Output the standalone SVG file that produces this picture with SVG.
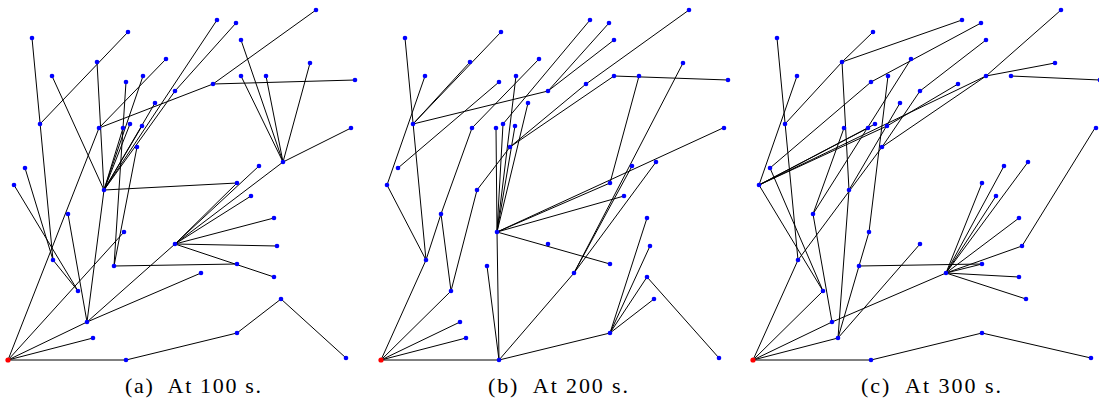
<svg xmlns="http://www.w3.org/2000/svg" width="1099" height="412" viewBox="0 0 1099 412">
<style>
.e line{stroke:#000;stroke-width:1}
.n circle{fill:#0000ff}
.n .r circle{fill:#ff0000}
text{font-family:"Liberation Serif","DejaVu Serif",serif;font-size:22px;fill:#000}
</style>
<rect width="1099" height="412" fill="#fff"/>
<g id="panel-a">
<g id="a-edges" class="e">
<line x1="8" y1="360" x2="126" y2="360"/><line x1="126" y1="360" x2="237" y2="333"/><line x1="237" y1="333" x2="281" y2="299"/><line x1="281" y1="299" x2="346" y2="358"/>
<line x1="8" y1="360" x2="93" y2="338"/><line x1="8" y1="360" x2="87" y2="322"/><line x1="87" y1="322" x2="201" y2="273"/><line x1="87" y1="322" x2="175" y2="244"/>
<line x1="175" y1="244" x2="274" y2="277"/><line x1="114" y1="266" x2="237" y2="264"/><line x1="175" y1="244" x2="277" y2="246"/><line x1="175" y1="244" x2="274" y2="218"/><line x1="175" y1="244" x2="251" y2="196"/><line x1="175" y1="244" x2="237" y2="183"/><line x1="175" y1="244" x2="259" y2="166"/><line x1="175" y1="244" x2="283" y2="162"/>
<line x1="283" y1="162" x2="351" y2="128"/><line x1="283" y1="162" x2="241" y2="40"/><line x1="283" y1="162" x2="241" y2="76"/><line x1="283" y1="162" x2="266" y2="76"/><line x1="283" y1="162" x2="310" y2="63"/>
<line x1="104" y1="190" x2="237" y2="183"/><line x1="213" y1="84" x2="316" y2="10"/><line x1="213" y1="84" x2="355" y2="80"/><line x1="99" y1="128" x2="213" y2="84"/><line x1="99" y1="128" x2="166" y2="59"/>
<line x1="126" y1="82" x2="114" y2="266"/><line x1="137" y1="147" x2="114" y2="266"/><line x1="52" y1="76" x2="104" y2="190"/><line x1="97" y1="62" x2="104" y2="190"/><line x1="128" y1="32" x2="40" y2="124"/>
<line x1="32" y1="38" x2="53" y2="260"/><line x1="25" y1="168" x2="53" y2="260"/><line x1="14" y1="185" x2="78" y2="291"/><line x1="53" y1="260" x2="78" y2="291"/>
<line x1="104" y1="190" x2="123" y2="128"/><line x1="104" y1="190" x2="130" y2="124"/><line x1="104" y1="190" x2="142" y2="126"/><line x1="104" y1="190" x2="143" y2="76"/><line x1="104" y1="190" x2="155" y2="103"/><line x1="104" y1="190" x2="175" y2="91"/><line x1="175" y1="91" x2="236" y2="23"/><line x1="104" y1="190" x2="217" y2="20"/>
<line x1="104" y1="190" x2="87" y2="322"/><line x1="8" y1="360" x2="99" y2="128"/><line x1="68" y1="214" x2="87" y2="322"/><line x1="8" y1="360" x2="124" y2="232"/>
</g>
<g id="a-nodes" class="n">
<g id="a-n0" class="r"><circle cx="8" cy="360" r="2.6"/></g>
<g id="a-n1"><circle cx="126" cy="360" r="2.3"/></g><g id="a-n2"><circle cx="93" cy="338" r="2.3"/></g><g id="a-n3"><circle cx="87" cy="322" r="2.3"/></g><g id="a-n4"><circle cx="78" cy="291" r="2.3"/></g><g id="a-n5"><circle cx="53" cy="260" r="2.3"/></g>
<g id="a-n6"><circle cx="68" cy="214" r="2.3"/></g><g id="a-n7"><circle cx="124" cy="232" r="2.3"/></g><g id="a-n8"><circle cx="114" cy="266" r="2.3"/></g><g id="a-n9"><circle cx="104" cy="190" r="2.3"/></g><g id="a-n10"><circle cx="14" cy="185" r="2.3"/></g>
<g id="a-n11"><circle cx="25" cy="168" r="2.3"/></g><g id="a-n12"><circle cx="32" cy="38" r="2.3"/></g><g id="a-n13"><circle cx="40" cy="124" r="2.3"/></g><g id="a-n14"><circle cx="128" cy="32" r="2.3"/></g><g id="a-n15"><circle cx="97" cy="62" r="2.3"/></g>
<g id="a-n16"><circle cx="52" cy="76" r="2.3"/></g><g id="a-n17"><circle cx="166" cy="59" r="2.3"/></g><g id="a-n18"><circle cx="126" cy="82" r="2.3"/></g><g id="a-n19"><circle cx="143" cy="76" r="2.3"/></g><g id="a-n20"><circle cx="175" cy="91" r="2.3"/></g>
<g id="a-n21"><circle cx="155" cy="103" r="2.3"/></g><g id="a-n22"><circle cx="99" cy="128" r="2.3"/></g><g id="a-n23"><circle cx="123" cy="128" r="2.3"/></g><g id="a-n24"><circle cx="130" cy="124" r="2.3"/></g><g id="a-n25"><circle cx="142" cy="126" r="2.3"/></g>
<g id="a-n26"><circle cx="137" cy="147" r="2.3"/></g><g id="a-n27"><circle cx="217" cy="20" r="2.3"/></g><g id="a-n28"><circle cx="236" cy="23" r="2.3"/></g><g id="a-n29"><circle cx="316" cy="10" r="2.3"/></g><g id="a-n30"><circle cx="241" cy="40" r="2.3"/></g>
<g id="a-n31"><circle cx="310" cy="63" r="2.3"/></g><g id="a-n32"><circle cx="241" cy="76" r="2.3"/></g><g id="a-n33"><circle cx="266" cy="76" r="2.3"/></g><g id="a-n34"><circle cx="213" cy="84" r="2.3"/></g><g id="a-n35"><circle cx="355" cy="80" r="2.3"/></g>
<g id="a-n36"><circle cx="351" cy="128" r="2.3"/></g><g id="a-n37"><circle cx="283" cy="162" r="2.3"/></g><g id="a-n38"><circle cx="259" cy="166" r="2.3"/></g><g id="a-n39"><circle cx="237" cy="183" r="2.3"/></g><g id="a-n40"><circle cx="175" cy="244" r="2.3"/></g>
<g id="a-n41"><circle cx="251" cy="196" r="2.3"/></g><g id="a-n42"><circle cx="274" cy="218" r="2.3"/></g><g id="a-n43"><circle cx="277" cy="246" r="2.3"/></g><g id="a-n44"><circle cx="237" cy="264" r="2.3"/></g><g id="a-n45"><circle cx="201" cy="273" r="2.3"/></g>
<g id="a-n46"><circle cx="274" cy="277" r="2.3"/></g><g id="a-n47"><circle cx="281" cy="299" r="2.3"/></g><g id="a-n48"><circle cx="237" cy="333" r="2.3"/></g><g id="a-n49"><circle cx="346" cy="358" r="2.3"/></g>
</g>
</g>
<g id="panel-b" transform="translate(373,0)">
<g id="b-edges" class="e">
<line x1="8" y1="360" x2="126" y2="360"/><line x1="126" y1="360" x2="114" y2="266"/><line x1="126" y1="360" x2="124" y2="232"/><line x1="126" y1="360" x2="201" y2="273"/><line x1="201" y1="273" x2="259" y2="166"/><line x1="201" y1="273" x2="283" y2="162"/><line x1="126" y1="360" x2="237" y2="333"/>
<line x1="237" y1="333" x2="274" y2="218"/><line x1="237" y1="333" x2="277" y2="246"/><line x1="237" y1="333" x2="274" y2="277"/><line x1="237" y1="333" x2="281" y2="299"/><line x1="274" y1="277" x2="346" y2="358"/>
<line x1="8" y1="360" x2="93" y2="338"/><line x1="8" y1="360" x2="87" y2="322"/><line x1="8" y1="360" x2="78" y2="291"/><line x1="8" y1="360" x2="53" y2="260"/>
<line x1="78" y1="291" x2="68" y2="214"/><line x1="104" y1="190" x2="78" y2="291"/><line x1="53" y1="260" x2="14" y2="185"/><line x1="53" y1="260" x2="68" y2="214"/><line x1="32" y1="38" x2="53" y2="260"/><line x1="68" y1="214" x2="99" y2="128"/>
<line x1="124" y1="232" x2="123" y2="128"/><line x1="124" y1="232" x2="130" y2="124"/><line x1="124" y1="232" x2="142" y2="126"/><line x1="124" y1="232" x2="143" y2="76"/><line x1="124" y1="232" x2="237" y2="183"/><line x1="124" y1="232" x2="251" y2="196"/><line x1="124" y1="232" x2="237" y2="264"/><line x1="124" y1="232" x2="350" y2="128"/>
<line x1="40" y1="124" x2="128" y2="32"/><line x1="40" y1="124" x2="97" y2="62"/><line x1="40" y1="124" x2="175" y2="91"/><line x1="52" y1="76" x2="14" y2="185"/><line x1="126" y1="82" x2="25" y2="168"/><line x1="166" y1="59" x2="99" y2="128"/>
<line x1="217" y1="20" x2="130" y2="124"/><line x1="236" y1="23" x2="175" y2="91"/><line x1="241" y1="40" x2="175" y2="91"/><line x1="213" y1="84" x2="137" y2="147"/><line x1="241" y1="76" x2="137" y2="147"/><line x1="137" y1="147" x2="104" y2="190"/>
<line x1="241" y1="76" x2="355" y2="80"/><line x1="266" y1="76" x2="237" y2="183"/><line x1="310" y1="63" x2="201" y2="273"/><line x1="316" y1="10" x2="213" y2="84"/><line x1="155" y1="103" x2="124" y2="232"/>
</g>
<g id="b-nodes" class="n">
<g id="b-n0" class="r"><circle cx="8" cy="360" r="2.6"/></g>
<g id="b-n1"><circle cx="126" cy="360" r="2.3"/></g><g id="b-n2"><circle cx="93" cy="338" r="2.3"/></g><g id="b-n3"><circle cx="87" cy="322" r="2.3"/></g><g id="b-n4"><circle cx="78" cy="291" r="2.3"/></g><g id="b-n5"><circle cx="53" cy="260" r="2.3"/></g>
<g id="b-n6"><circle cx="68" cy="214" r="2.3"/></g><g id="b-n7"><circle cx="124" cy="232" r="2.3"/></g><g id="b-n8"><circle cx="114" cy="266" r="2.3"/></g><g id="b-n9"><circle cx="104" cy="190" r="2.3"/></g><g id="b-n10"><circle cx="14" cy="185" r="2.3"/></g>
<g id="b-n11"><circle cx="25" cy="168" r="2.3"/></g><g id="b-n12"><circle cx="32" cy="38" r="2.3"/></g><g id="b-n13"><circle cx="40" cy="124" r="2.3"/></g><g id="b-n14"><circle cx="128" cy="32" r="2.3"/></g><g id="b-n15"><circle cx="97" cy="62" r="2.3"/></g>
<g id="b-n16"><circle cx="52" cy="76" r="2.3"/></g><g id="b-n17"><circle cx="166" cy="59" r="2.3"/></g><g id="b-n18"><circle cx="126" cy="82" r="2.3"/></g><g id="b-n19"><circle cx="143" cy="76" r="2.3"/></g><g id="b-n20"><circle cx="175" cy="91" r="2.3"/></g>
<g id="b-n21"><circle cx="155" cy="103" r="2.3"/></g><g id="b-n22"><circle cx="99" cy="128" r="2.3"/></g><g id="b-n23"><circle cx="123" cy="128" r="2.3"/></g><g id="b-n24"><circle cx="130" cy="124" r="2.3"/></g><g id="b-n25"><circle cx="142" cy="126" r="2.3"/></g>
<g id="b-n26"><circle cx="137" cy="147" r="2.3"/></g><g id="b-n27"><circle cx="217" cy="20" r="2.3"/></g><g id="b-n28"><circle cx="236" cy="23" r="2.3"/></g><g id="b-n29"><circle cx="316" cy="10" r="2.3"/></g><g id="b-n30"><circle cx="241" cy="40" r="2.3"/></g>
<g id="b-n31"><circle cx="310" cy="63" r="2.3"/></g><g id="b-n32"><circle cx="241" cy="76" r="2.3"/></g><g id="b-n33"><circle cx="266" cy="76" r="2.3"/></g><g id="b-n34"><circle cx="213" cy="84" r="2.3"/></g><g id="b-n35"><circle cx="355" cy="80" r="2.3"/></g>
<g id="b-n36"><circle cx="351" cy="128" r="2.3"/></g><g id="b-n37"><circle cx="283" cy="162" r="2.3"/></g><g id="b-n38"><circle cx="259" cy="166" r="2.3"/></g><g id="b-n39"><circle cx="237" cy="183" r="2.3"/></g><g id="b-n40"><circle cx="175" cy="244" r="2.3"/></g>
<g id="b-n41"><circle cx="251" cy="196" r="2.3"/></g><g id="b-n42"><circle cx="274" cy="218" r="2.3"/></g><g id="b-n43"><circle cx="277" cy="246" r="2.3"/></g><g id="b-n44"><circle cx="237" cy="264" r="2.3"/></g><g id="b-n45"><circle cx="201" cy="273" r="2.3"/></g>
<g id="b-n46"><circle cx="274" cy="277" r="2.3"/></g><g id="b-n47"><circle cx="281" cy="299" r="2.3"/></g><g id="b-n48"><circle cx="237" cy="333" r="2.3"/></g><g id="b-n49"><circle cx="346" cy="358" r="2.3"/></g>
</g>
</g>
<g id="panel-c" transform="translate(745,0)">
<g id="c-edges" class="e">
<line x1="8" y1="360" x2="126" y2="360"/><line x1="126" y1="360" x2="237" y2="333"/><line x1="237" y1="333" x2="346" y2="358"/>
<line x1="8" y1="360" x2="93" y2="338"/><line x1="8" y1="360" x2="87" y2="322"/><line x1="8" y1="360" x2="78" y2="291"/><line x1="8" y1="360" x2="53" y2="260"/><line x1="87" y1="322" x2="201" y2="273"/>
<line x1="201" y1="273" x2="237" y2="183"/><line x1="201" y1="273" x2="251" y2="196"/><line x1="201" y1="273" x2="259" y2="166"/><line x1="201" y1="273" x2="283" y2="162"/><line x1="201" y1="273" x2="274" y2="218"/><line x1="201" y1="273" x2="277" y2="246"/><line x1="201" y1="273" x2="237" y2="264"/><line x1="201" y1="273" x2="274" y2="277"/><line x1="201" y1="273" x2="281" y2="299"/><line x1="277" y1="246" x2="350" y2="128"/>
<line x1="114" y1="266" x2="237" y2="264"/><line x1="93" y1="338" x2="114" y2="266"/><line x1="93" y1="338" x2="175" y2="244"/><line x1="93" y1="338" x2="104" y2="190"/><line x1="114" y1="266" x2="124" y2="232"/><line x1="87" y1="322" x2="68" y2="214"/>
<line x1="14" y1="185" x2="78" y2="291"/><line x1="32" y1="38" x2="53" y2="260"/><line x1="128" y1="32" x2="97" y2="62"/><line x1="97" y1="62" x2="40" y2="124"/><line x1="97" y1="62" x2="217" y2="20"/><line x1="97" y1="62" x2="104" y2="190"/>
<line x1="52" y1="76" x2="14" y2="185"/><line x1="126" y1="82" x2="25" y2="168"/><line x1="126" y1="82" x2="236" y2="23"/><line x1="241" y1="40" x2="175" y2="91"/><line x1="241" y1="76" x2="14" y2="185"/><line x1="241" y1="76" x2="310" y2="63"/><line x1="241" y1="76" x2="316" y2="10"/><line x1="266" y1="76" x2="355" y2="80"/><line x1="241" y1="76" x2="137" y2="147"/><line x1="213" y1="84" x2="142" y2="126"/>
<line x1="14" y1="185" x2="130" y2="124"/><line x1="14" y1="185" x2="123" y2="128"/><line x1="14" y1="185" x2="142" y2="126"/><line x1="25" y1="168" x2="78" y2="291"/><line x1="137" y1="147" x2="53" y2="260"/><line x1="68" y1="214" x2="166" y2="59"/><line x1="68" y1="214" x2="99" y2="128"/>
<line x1="143" y1="76" x2="124" y2="232"/><line x1="155" y1="103" x2="104" y2="190"/><line x1="175" y1="91" x2="137" y2="147"/>
</g>
<g id="c-nodes" class="n">
<g id="c-n0" class="r"><circle cx="8" cy="360" r="2.6"/></g>
<g id="c-n1"><circle cx="126" cy="360" r="2.3"/></g><g id="c-n2"><circle cx="93" cy="338" r="2.3"/></g><g id="c-n3"><circle cx="87" cy="322" r="2.3"/></g><g id="c-n4"><circle cx="78" cy="291" r="2.3"/></g><g id="c-n5"><circle cx="53" cy="260" r="2.3"/></g>
<g id="c-n6"><circle cx="68" cy="214" r="2.3"/></g><g id="c-n7"><circle cx="124" cy="232" r="2.3"/></g><g id="c-n8"><circle cx="114" cy="266" r="2.3"/></g><g id="c-n9"><circle cx="104" cy="190" r="2.3"/></g><g id="c-n10"><circle cx="14" cy="185" r="2.3"/></g>
<g id="c-n11"><circle cx="25" cy="168" r="2.3"/></g><g id="c-n12"><circle cx="32" cy="38" r="2.3"/></g><g id="c-n13"><circle cx="40" cy="124" r="2.3"/></g><g id="c-n14"><circle cx="128" cy="32" r="2.3"/></g><g id="c-n15"><circle cx="97" cy="62" r="2.3"/></g>
<g id="c-n16"><circle cx="52" cy="76" r="2.3"/></g><g id="c-n17"><circle cx="166" cy="59" r="2.3"/></g><g id="c-n18"><circle cx="126" cy="82" r="2.3"/></g><g id="c-n19"><circle cx="143" cy="76" r="2.3"/></g><g id="c-n20"><circle cx="175" cy="91" r="2.3"/></g>
<g id="c-n21"><circle cx="155" cy="103" r="2.3"/></g><g id="c-n22"><circle cx="99" cy="128" r="2.3"/></g><g id="c-n23"><circle cx="123" cy="128" r="2.3"/></g><g id="c-n24"><circle cx="130" cy="124" r="2.3"/></g><g id="c-n25"><circle cx="142" cy="126" r="2.3"/></g>
<g id="c-n26"><circle cx="137" cy="147" r="2.3"/></g><g id="c-n27"><circle cx="217" cy="20" r="2.3"/></g><g id="c-n28"><circle cx="236" cy="23" r="2.3"/></g><g id="c-n29"><circle cx="316" cy="10" r="2.3"/></g><g id="c-n30"><circle cx="241" cy="40" r="2.3"/></g>
<g id="c-n31"><circle cx="310" cy="63" r="2.3"/></g><g id="c-n32"><circle cx="241" cy="76" r="2.3"/></g><g id="c-n33"><circle cx="266" cy="76" r="2.3"/></g><g id="c-n34"><circle cx="213" cy="84" r="2.3"/></g><g id="c-n35"><circle cx="355" cy="80" r="2.3"/></g>
<g id="c-n36"><circle cx="351" cy="128" r="2.3"/></g><g id="c-n37"><circle cx="283" cy="162" r="2.3"/></g><g id="c-n38"><circle cx="259" cy="166" r="2.3"/></g><g id="c-n39"><circle cx="237" cy="183" r="2.3"/></g><g id="c-n40"><circle cx="175" cy="244" r="2.3"/></g>
<g id="c-n41"><circle cx="251" cy="196" r="2.3"/></g><g id="c-n42"><circle cx="274" cy="218" r="2.3"/></g><g id="c-n43"><circle cx="277" cy="246" r="2.3"/></g><g id="c-n44"><circle cx="237" cy="264" r="2.3"/></g><g id="c-n45"><circle cx="201" cy="273" r="2.3"/></g>
<g id="c-n46"><circle cx="274" cy="277" r="2.3"/></g><g id="c-n47"><circle cx="281" cy="299" r="2.3"/></g><g id="c-n48"><circle cx="237" cy="333" r="2.3"/></g><g id="c-n49"><circle cx="346" cy="358" r="2.3"/></g>
</g>
</g>
<g id="captions">
<text x="193" y="393" text-anchor="middle" textLength="136" lengthAdjust="spacing" xml:space="preserve">(a)  At 100 s.</text>
<text x="558" y="393" text-anchor="middle" textLength="140" lengthAdjust="spacing" xml:space="preserve">(b)  At 200 s.</text>
<text x="931" y="393" text-anchor="middle" textLength="140" lengthAdjust="spacing" xml:space="preserve">(c)  At 300 s.</text>
</g>
</svg>
